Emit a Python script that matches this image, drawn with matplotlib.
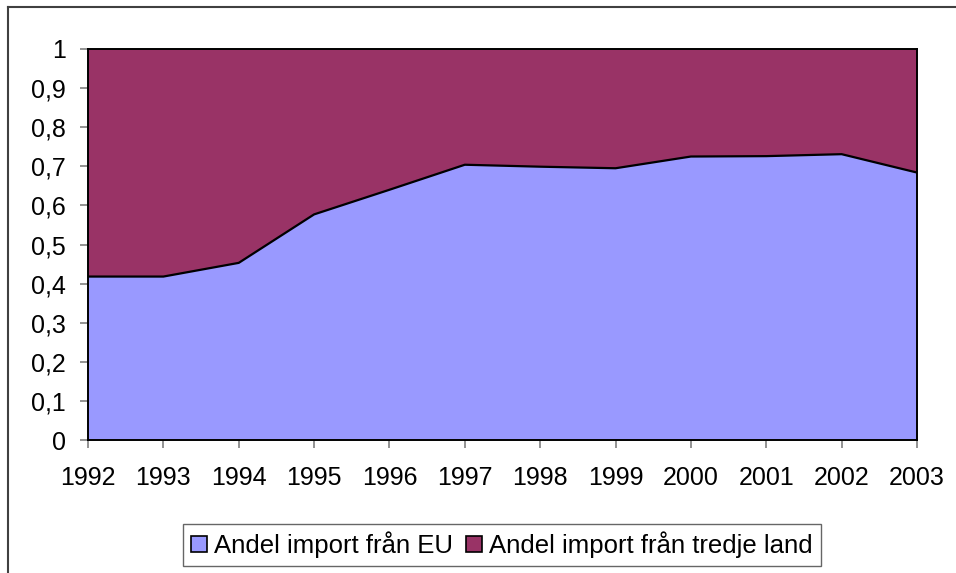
import matplotlib
matplotlib.use('Agg')
import numpy as np
from matplotlib import pyplot as plt
from matplotlib.lines import Line2D

years = [1992, 1993, 1994, 1995, 1996, 1997, 1998, 1999, 2000, 2001, 2002, 2003]
eu_share = [0.418, 0.418, 0.453, 0.577, 0.640, 0.704, 0.699, 0.695, 0.725, 0.726, 0.731, 0.684]
third_share = [1 - v for v in eu_share]
labels = ['Andel import från EU', 'Andel import från tredje land']
colors = ['#9999ff', '#993366']
yticks = np.round(np.arange(0, 1.01, 0.1), 1)

plt.rcParams['font.family'] = ['Liberation Sans', 'DejaVu Sans']

fig = plt.figure(figsize=(9.56, 5.73), dpi=100)
ax = fig.add_axes([88 / 956, 133 / 573, 829 / 956, 391 / 573])

x = np.arange(len(years))
ax.stackplot(x, eu_share, third_share, colors=colors, labels=labels)
ax.plot(x, eu_share, color='black', lw=1.6)

ax.set_xlim(0, len(years) - 1)
ax.set_ylim(0, 1)
ax.set_xticks(x)
ax.set_xticklabels([str(y) for y in years])
ax.set_yticks(yticks)
ax.set_yticklabels([('%g' % t).replace('.', ',') for t in yticks])
ax.tick_params(axis='both', labelsize=18, length=6, width=1.2, color='#808080', direction='out')
ax.tick_params(axis='y', pad=10)
ax.tick_params(axis='x', pad=13)
for s in ax.spines.values():
    s.set_color('black')
    s.set_linewidth(1.4)

handles = [plt.Rectangle((0, 0), 1, 1, fc=c, ec='black', lw=1.2) for c in colors]
leg = fig.legend(handles, labels, loc='center', bbox_to_anchor=(502 / 956, 1 - 545 / 573),
                 ncol=2, fontsize=18.5, frameon=True, fancybox=False, handlelength=0.6,
                 handleheight=0.6, handletextpad=0.3, columnspacing=0.5, borderpad=0.3,
                 borderaxespad=0)
leg.get_frame().set_edgecolor('#404040')
leg.get_frame().set_linewidth(1.0)

# outer chart frame (only top and left edges visible)
fig.add_artist(Line2D([8 / 956, 8 / 956], [0, 1 - 7 / 573], color='#404040', lw=1.5))
fig.add_artist(Line2D([8 / 956, 1], [1 - 7 / 573, 1 - 7 / 573], color='#404040', lw=1.5))

fig.savefig('out.png', dpi=100)
